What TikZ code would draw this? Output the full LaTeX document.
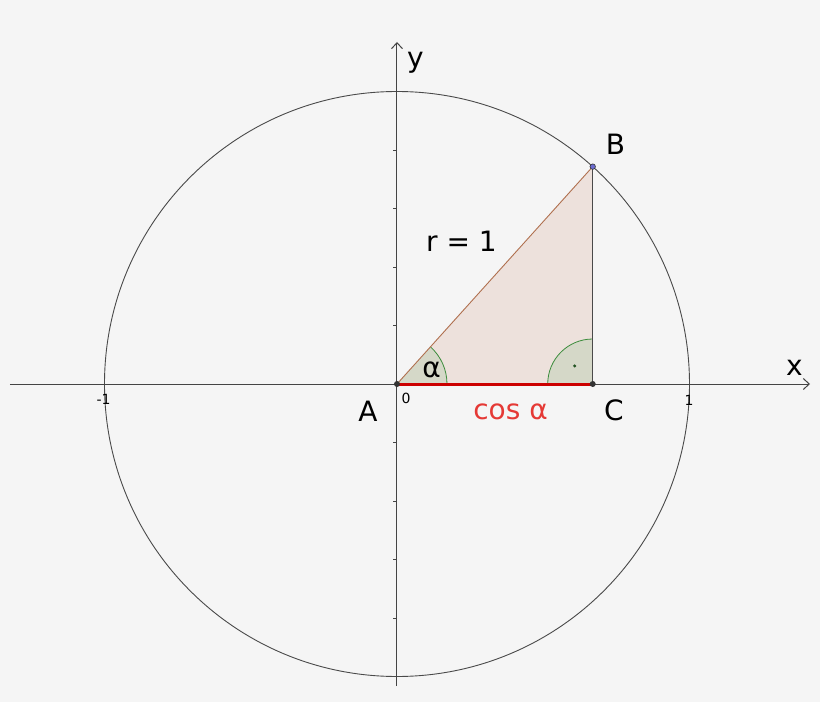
\documentclass[tikz,border=0pt]{standalone}
\usepackage{fontspec}
\setmainfont{DejaVu Sans}
\usetikzlibrary{arrows.meta,calc}
\definecolor{bgc}{HTML}{F5F5F5}
\definecolor{trifill}{HTML}{EDE1DC}
\definecolor{angfill}{HTML}{D5D8C8}
\definecolor{anggreen}{HTML}{3C8C3C}
\definecolor{hypbrown}{HTML}{B0704F}
\definecolor{linegray}{HTML}{4A4A4A}
\definecolor{axisgray}{HTML}{444444}
\definecolor{segred}{HTML}{CC0000}
\definecolor{txtred}{HTML}{E53935}
\definecolor{ptgray}{HTML}{333333}
\definecolor{ptblue}{HTML}{6B6BD0}
\pgfdeclarelayer{back}
\pgfsetlayers{back,main}
\begin{document}
\begin{tikzpicture}[x=1pt,y=1pt,
  lbl/.style={inner sep=0pt, anchor=base, font=\fontsize{28}{34}\selectfont},
  small/.style={inner sep=0pt, anchor=base, font=\fontsize{14}{17}\selectfont},
  pt/.style={circle, inner sep=0pt, minimum size=6pt, fill=ptgray},
  axisline/.style={draw=axisgray, line width=1pt, -{Straight Barb[length=6pt,width=11pt,line width=1pt]}},
  tick/.style={draw=axisgray, line width=0.8pt},
]
\useasboundingbox (-397,-318) rectangle (423,384);
% points
\node[pt] (A) at (0,0) {};
\node[pt, fill=ptblue, draw=ptgray, line width=0.6pt, minimum size=5.5pt] (B) at (48:292.5) {};
\node[pt] (C) at (B |- A) {};
% axis end points
\coordinate (xl) at (-387,0);
\coordinate (xr) at (413,0);
\coordinate (yb) at (0,-302);
\coordinate (yt) at (0,342);
\begin{pgfonlayer}{back}
  \fill[bgc] (-397,-318) rectangle (423,384);
  \fill[trifill] (A.center) -- (B.center) -- (C.center) -- cycle;
  \fill[angfill] (A.center) -- ([xshift=50pt]A.center) arc[start angle=0,end angle=48,radius=50] -- cycle;
  \fill[angfill] (C.center) -- ([xshift=-45pt]C.center) arc[start angle=180,end angle=90,radius=45] -- cycle;
  \draw[anggreen, line width=0.8pt] ([xshift=50pt]A.center) arc[start angle=0,end angle=48,radius=50];
  \draw[anggreen, line width=0.8pt] ([xshift=-45pt]C.center) arc[start angle=180,end angle=90,radius=45];
  \fill[anggreen!60!black] ($(C.center)+(135:25.5)$) circle (1.7);
  \draw[linegray, line width=0.9pt] (A.center) circle (292.5);
  \draw[axisline] (xl) -- (xr);
  \draw[axisline] (yb) -- (yt);
  \foreach \k in {-4,-3,-2,-1,1,2,3,4}
    \draw[tick] (-3.5,58.5*\k) -- (0,58.5*\k);
  \draw[hypbrown, line width=0.9pt] (A.center) -- (B.center);
  \draw[linegray, line width=1.2pt] (B.center) -- (C.center);
  \draw[segred, line width=3pt] (A.center) -- (C.center);
\end{pgfonlayer}
% labels
\node[lbl] (ylab) at (18.5,316) {y};
\node[lbl] (xlab) at (397.5,9) {x};
\node[lbl] (Blab) at (218.5,229) {B};
\node[lbl] (rlab) at (64.5,132) {r = 1};
\node[lbl] (alab) at (34.5,7) {α};
\node[lbl] (Alab) at (-29,-37.5) {A};
\node[lbl] (Clab) at (217,-36) {C};
\node[lbl, text=txtred] (coslab) at (113.5,-35.3) {cos α};
\node[small] (zero) at (9,-19) {0};
\node[small] (mone) at (-293.5,-20) {-1};
\node[small] (one) at (292,-21) {1};
\end{tikzpicture}
\end{document}
